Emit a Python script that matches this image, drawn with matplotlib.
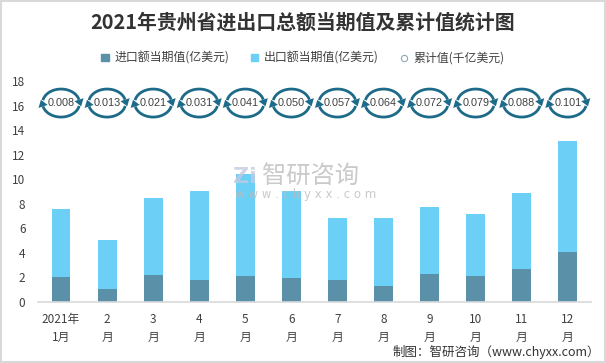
import numpy as np
import matplotlib
matplotlib.use("Agg")
import matplotlib.pyplot as plt
import matplotlib.transforms as mtransforms
from matplotlib.patches import Patch, Polygon, Rectangle
from matplotlib.lines import Line2D

plt.rcParams['font.family'] = ['Noto Sans CJK SC', 'DejaVu Sans']

months = ["2021年\n1月", "2\n月", "3\n月", "4\n月", "5\n月", "6\n月",
          "7\n月", "8\n月", "9\n月", "10\n月", "11\n月", "12\n月"]
imports = [2.04, 1.06, 2.2, 1.79, 2.12, 1.95, 1.79, 1.3, 2.28, 2.12, 2.69, 4.07]
exports = [5.53, 3.99, 6.27, 7.25, 8.28, 7.09, 5.08, 5.57, 5.45, 5.05, 6.19, 9.03]
cumulative = [0.008, 0.013, 0.021, 0.031, 0.041, 0.050, 0.057, 0.064, 0.072, 0.079, 0.088, 0.101]
yticks = [0, 2, 4, 6, 8, 10, 12, 14, 16, 18]

c_imp = '#5b91a8'
c_exp = '#6ccff6'
c_icon = '#1d6a89'
c_text = '#404040'

fig = plt.figure(figsize=(6.06, 3.63), dpi=100)
ax = fig.add_axes([0.0627, 0.168, 0.9123, 0.609])

x = np.arange(len(months))
w = 0.41
ax.bar(x, imports, w, color=c_imp, zorder=2)
ax.bar(x, exports, w, bottom=imports, color=c_exp, zorder=2)

ax.set_xlim(-0.5, len(months) - 0.5)
ax.set_ylim(0, 18)
ax.set_yticks(yticks)
ax.set_xticks(x)
ax.set_xticklabels(months, linespacing=1.45)
ax.tick_params(axis='both', length=0, labelsize=8.5, colors=c_text)
ax.tick_params(axis='x', pad=8)
ax.tick_params(axis='y', pad=9)
for s in ['top', 'right', 'left']:
    ax.spines[s].set_visible(False)
ax.spines['bottom'].set_color('#d9d9d9')
ax.spines['bottom'].set_linewidth(1.2)

# cumulative icons (circular arrows)
icon_y = 16.2
rx, ry = 18.5, 14.0


def arc_pts(a0, a1, n=40):
    t = np.radians(np.linspace(a0, a1, n))
    return np.column_stack([rx * np.cos(t), ry * np.sin(t)])


def head(angle):
    t = np.radians(angle)
    p = np.array([rx * np.cos(t), ry * np.sin(t)])
    d = np.array([rx * np.sin(t), -ry * np.cos(t)])
    d = d / np.linalg.norm(d)
    n = np.array([-d[1], d[0]])
    tip = p + d * 7
    b1 = p + n * 4.8
    b2 = p - n * 4.8
    return np.array([tip, b1, b2])


for xi, cv in zip(x, cumulative):
    tr = mtransforms.Affine2D() + mtransforms.ScaledTranslation(xi, icon_y, ax.transData)
    for a0, a1 in [(168, 14), (348, 194)]:
        pts = arc_pts(a0, a1)
        ax.add_line(Line2D(pts[:, 0], pts[:, 1], color=c_icon, lw=2.0,
                           transform=tr, solid_capstyle='butt', zorder=3, clip_on=False))
        ax.add_patch(Polygon(head(a1), closed=True, color=c_icon, lw=0,
                             transform=tr, zorder=3, clip_on=False))
    ax.text(xi, icon_y, f"{cv:.3f}", ha='center', va='center', fontsize=7.8,
            color=c_text, zorder=4, family=['Liberation Sans'])

# watermark
fig.text(0.385, 0.513, "Zi", fontsize=16, color='#c5cbe0', alpha=0.8, fontweight='bold',
         ha='left', va='center', zorder=5, family=['DejaVu Sans'])
fig.text(0.432, 0.513, "智研咨询", fontsize=17.5, color='#bdbdbd', alpha=0.8,
         ha='left', va='center', zorder=5)
fig.text(0.388, 0.463, "w w w . c h y x x . c o m", fontsize=8.5, color='#bdbdbd',
         alpha=0.8, ha='left', va='center', zorder=5, family=['DejaVu Sans'])

# title
fig.text(0.5, 0.94, "2021年贵州省进出口总额当期值及累计值统计图", fontsize=14.3,
         fontweight='bold', color='#333333', ha='center', va='center')

# legend
handles = [Patch(color=c_imp), Patch(color=c_exp),
           Line2D([], [], marker='o', ls='none', mfc='white', mec='#8aa8bb',
                  markersize=4.5, mew=0.8)]
labels = ["进口额当期值(亿美元)", "出口额当期值(亿美元)", "累计值(千亿美元)"]
fig.legend(handles, labels, loc='center', bbox_to_anchor=(0.5, 0.84), ncol=3,
           frameon=False, fontsize=8.6, handlelength=0.6, handleheight=0.6,
           handletextpad=0.5, columnspacing=1.8, labelcolor=c_text)

# source
fig.text(0.99, 0.03, "制图：智研咨询（www.chyxx.com）", fontsize=9, color='#333333',
         ha='right', va='center')

# border
fig.add_artist(Rectangle((0.001, 0.002), 0.997, 0.996, transform=fig.transFigure,
                         fill=False, ec='#d9d9d9', lw=1.5))

fig.savefig("out.png", dpi=100)
